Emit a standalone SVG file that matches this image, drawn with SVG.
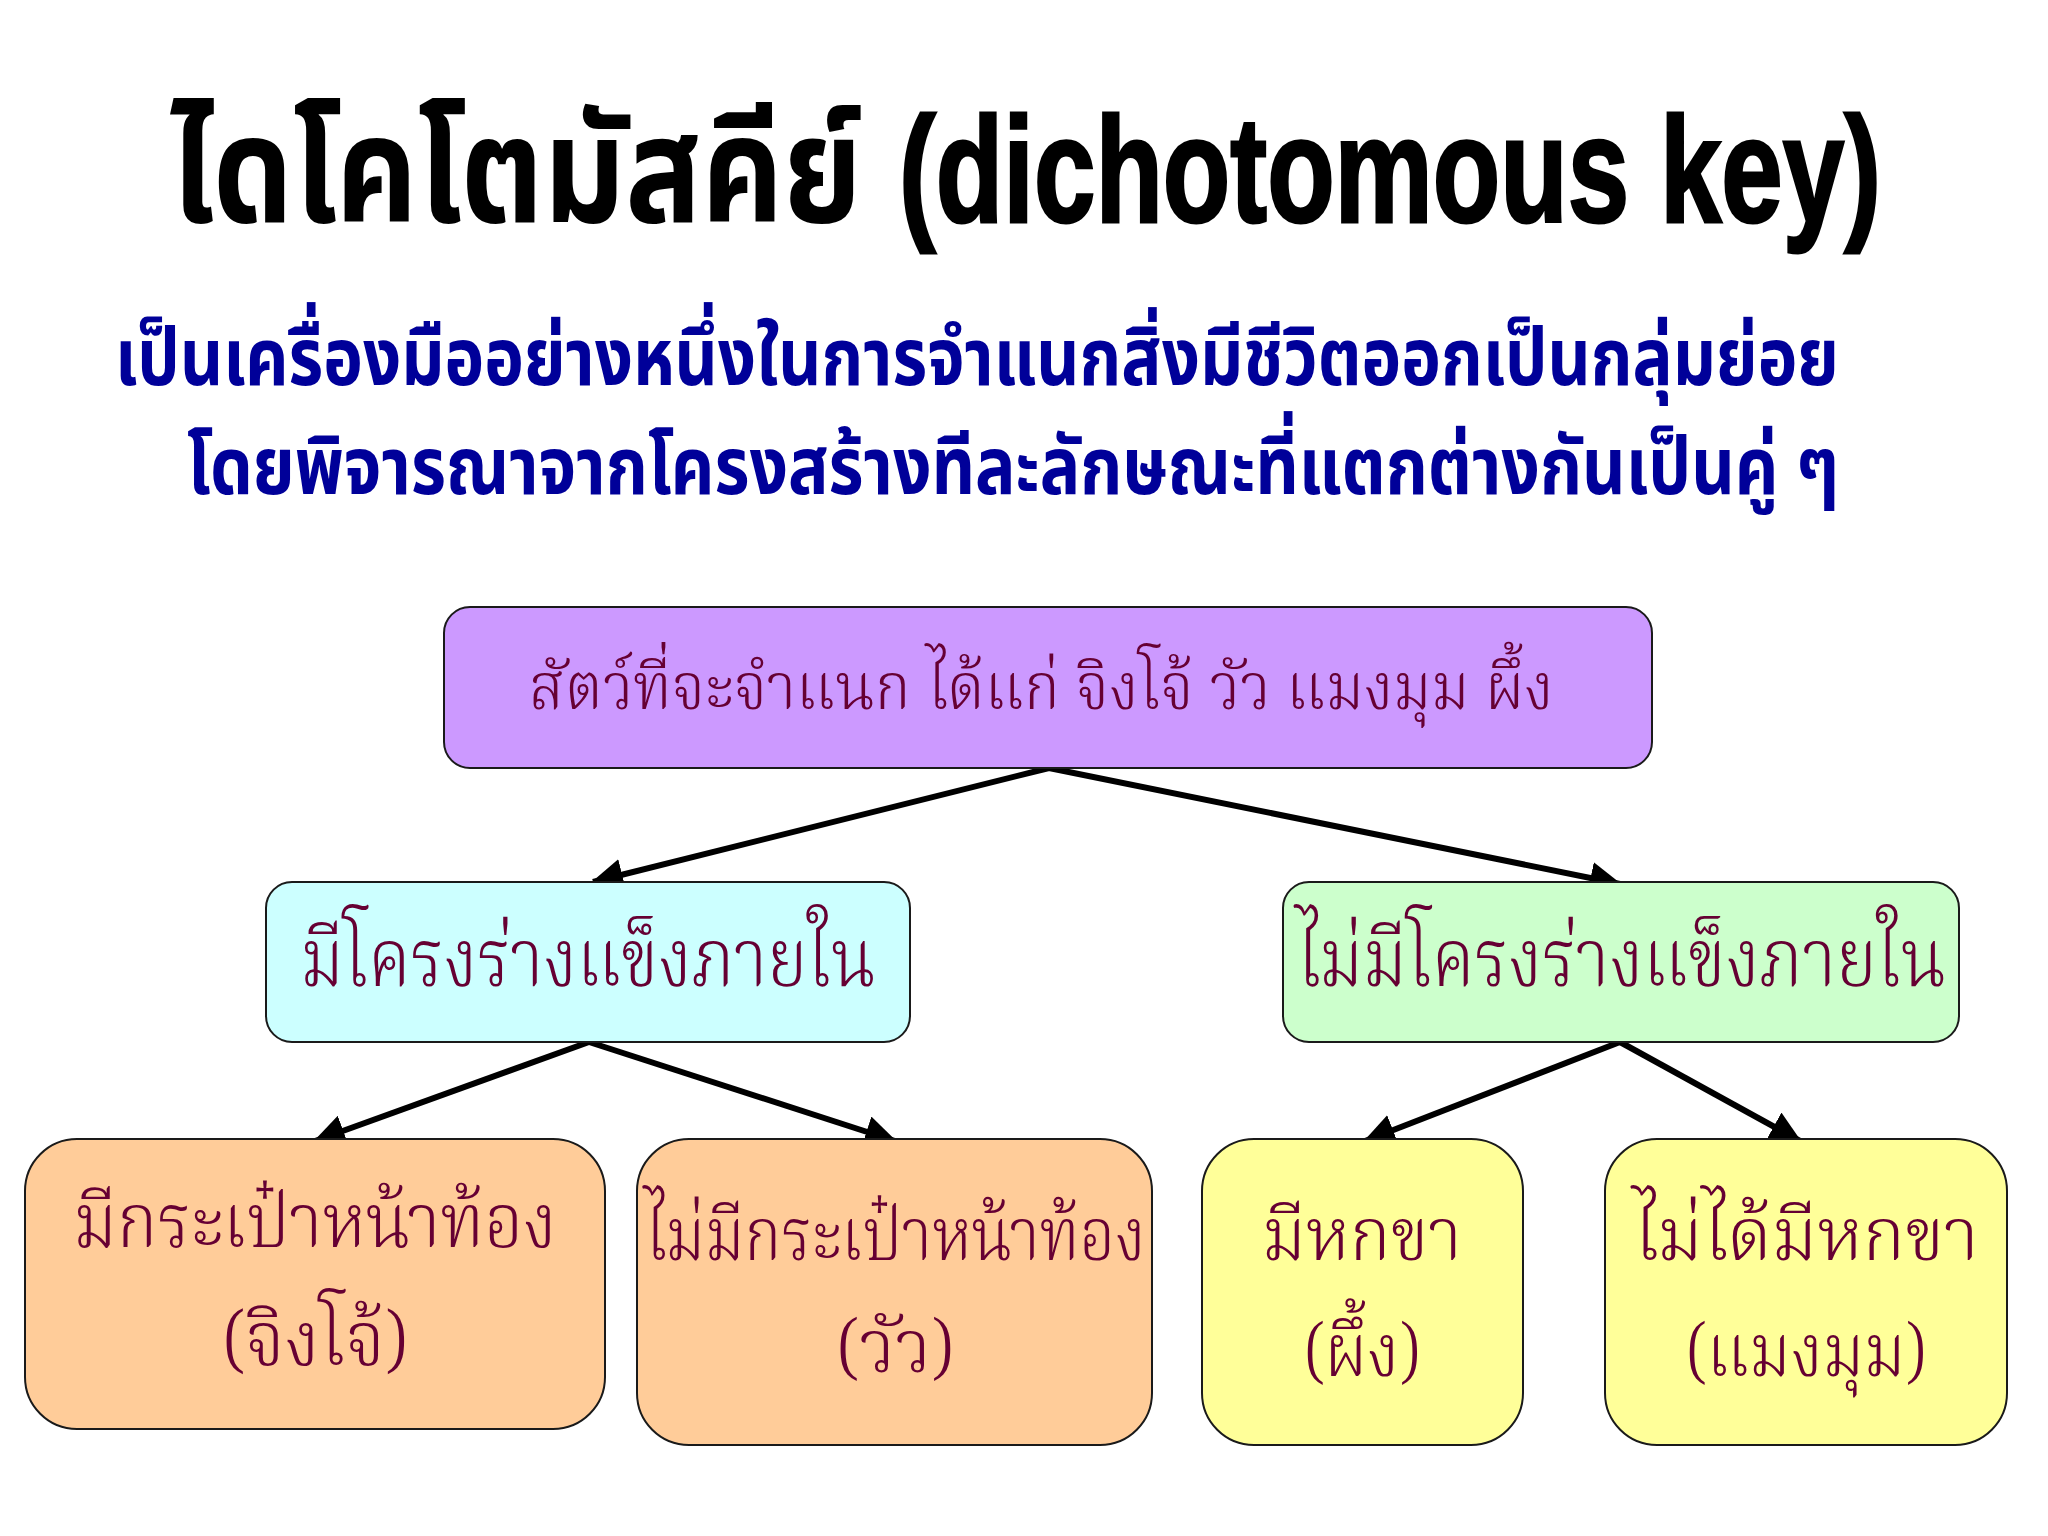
<svg xmlns="http://www.w3.org/2000/svg" width="2048" height="1536" viewBox="0 0 2048 1536">
<style>
.title{font-family:"Noto Sans Thai","Liberation Sans","Noto Sans",sans-serif;font-weight:bold;fill:#000}
.latin{font-family:"Liberation Sans","Noto Sans",sans-serif;font-weight:bold;fill:#000;stroke:#000;stroke-width:3}
.sub{font-family:"Noto Sans Thai","Liberation Sans","Noto Sans",sans-serif;font-weight:bold;fill:#000099}
.lbl{font-family:"Noto Serif Thai","Noto Sans Thai","Liberation Serif",serif;font-weight:300;fill:#660033;text-anchor:middle}
.box{stroke:#1a1a1a;stroke-width:2}
.conn{stroke:#000;stroke-width:6;fill:none;marker-end:url(#ah)}
</style>
<defs>
<marker id="ah" markerUnits="userSpaceOnUse" markerWidth="32" markerHeight="32" refX="30" refY="16" orient="auto">
<path d="M0,0 L32,16 L0,32 Z" fill="#000"/>
</marker>
</defs>
<rect width="2048" height="1536" fill="#fff"/>
<g id="title">
<text class="title" x="170" y="222" font-size="150" textLength="692" lengthAdjust="spacingAndGlyphs">ไดโคโตมัสคีย์</text>
<text class="latin" transform="translate(899,222) scale(0.7365,1)" x="0" y="0" font-size="150">(dichotomous key)</text>
</g>
<g id="subtitle">
<text class="sub" transform="translate(115,385) scale(1,1.4286)" x="0" y="0" font-size="56" textLength="1724" lengthAdjust="spacingAndGlyphs">เป็นเครื่องมืออย่างหนึ่งในการจำแนกสิ่งมีชีวิตออกเป็นกลุ่มย่อย</text>
<text class="sub" transform="translate(187,494) scale(1,1.4286)" x="0" y="0" font-size="56" textLength="1652" lengthAdjust="spacingAndGlyphs">โดยพิจารณาจากโครงสร้างทีละลักษณะที่แตกต่างกันเป็นคู่ ๆ</text>
</g>
<g id="connectors">
<line class="conn" x1="1049" y1="768" x2="593" y2="882"/>
<line class="conn" x1="1049" y1="768" x2="1620" y2="884"/>
<line class="conn" x1="589" y1="1042" x2="315" y2="1141"/>
<line class="conn" x1="589" y1="1042" x2="895" y2="1141"/>
<line class="conn" x1="1620" y1="1042" x2="1365" y2="1141"/>
<line class="conn" x1="1620" y1="1042" x2="1800" y2="1141"/>
</g>
<g id="root">
<rect class="box" x="444" y="607" width="1208" height="161" rx="26" fill="#CC99FF"/>
<text class="lbl" x="1041" y="709" font-size="64" textLength="1025" lengthAdjust="spacingAndGlyphs">สัตว์ที่จะจำแนก ได้แก่ จิงโจ้ วัว แมงมุม ผึ้ง</text>
</g>
<g id="internal">
<rect class="box" x="266" y="882" width="644" height="160" rx="26" fill="#CCFFFF"/>
<text class="lbl" x="588" y="986" font-size="80" textLength="575" lengthAdjust="spacingAndGlyphs">มีโครงร่างแข็งภายใน</text>
</g>
<g id="no-internal">
<rect class="box" x="1283" y="882" width="676" height="160" rx="26" fill="#CCFFCC"/>
<text class="lbl" x="1621" y="986" font-size="80" textLength="650" lengthAdjust="spacingAndGlyphs">ไม่มีโครงร่างแข็งภายใน</text>
</g>
<g id="pouch">
<rect class="box" x="25" y="1139" width="580" height="290" rx="52" fill="#FFCC99"/>
<text class="lbl" x="315" y="1247" font-size="76" textLength="483" lengthAdjust="spacingAndGlyphs">มีกระเป๋าหน้าท้อง</text>
<text class="lbl" x="315" y="1365" font-size="76" textLength="185" lengthAdjust="spacingAndGlyphs">(จิงโจ้)</text>
</g>
<g id="no-pouch">
<rect class="box" x="637" y="1139" width="515" height="306" rx="52" fill="#FFCC99"/>
<text class="lbl" x="895" y="1260" font-size="74" textLength="501" lengthAdjust="spacingAndGlyphs">ไม่มีกระเป๋าหน้าท้อง</text>
<text class="lbl" x="895" y="1372" font-size="74" textLength="117" lengthAdjust="spacingAndGlyphs">(วัว)</text>
</g>
<g id="six-legs">
<rect class="box" x="1202" y="1139" width="321" height="306" rx="52" fill="#FFFF99"/>
<text class="lbl" x="1362" y="1260" font-size="74" textLength="200" lengthAdjust="spacingAndGlyphs">มีหกขา</text>
<text class="lbl" x="1362" y="1376" font-size="74" textLength="116" lengthAdjust="spacingAndGlyphs">(ผึ้ง)</text>
</g>
<g id="not-six-legs">
<rect class="box" x="1605" y="1139" width="402" height="306" rx="52" fill="#FFFF99"/>
<text class="lbl" x="1806" y="1260" font-size="74" textLength="346" lengthAdjust="spacingAndGlyphs">ไม่ได้มีหกขา</text>
<text class="lbl" x="1806" y="1376" font-size="74" textLength="240" lengthAdjust="spacingAndGlyphs">(แมงมุม)</text>
</g>
</svg>
